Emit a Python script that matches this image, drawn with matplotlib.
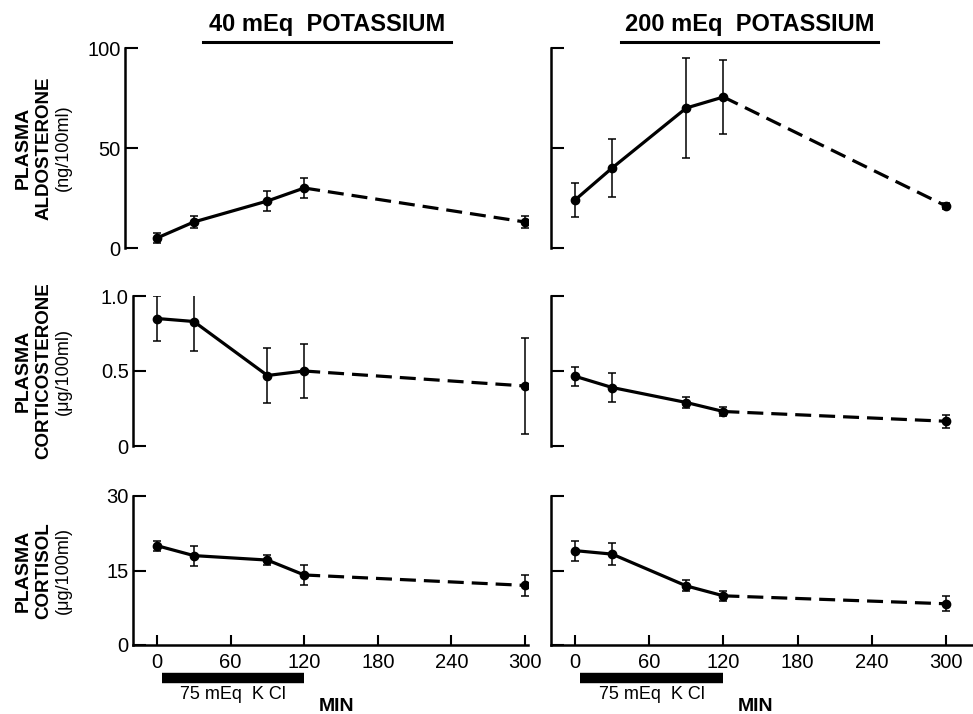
import numpy as np
import matplotlib
matplotlib.use("Agg")
import matplotlib.pyplot as plt
from matplotlib.lines import Line2D

plt.rcParams['font.family'] = ['Liberation Sans', 'DejaVu Sans']

# sampling times (min)
minutes = [0, 30, 90, 120, 300]
xticks = [0, 60, 120, 180, 240, 300]
kcl_span = [4, 120]

# 40 mEq potassium diet
aldo_40 = [5, 13, 23.5, 30, 13]
aldo_40_err = [2.5, 3, 5, 5, 2.8]
cort_40 = [0.85, 0.83, 0.47, 0.50, 0.40]
cort_40_err = [0.15, 0.195, 0.185, 0.183, 0.32]
cortisol_40 = [20, 18, 17.1, 14.1, 12]
cortisol_40_err = [1, 2, 1, 2, 2.1]

# 200 mEq potassium diet
aldo_200 = [24, 40, 70, 75.5, 21]
aldo_200_err = [8.7, 14.5, 25, 18.5, 1.5]
cort_200 = [0.465, 0.39, 0.29, 0.23, 0.165]
cort_200_err = [0.065, 0.095, 0.037, 0.028, 0.042]
cortisol_200 = [19, 18.3, 11.9, 9.9, 8.3]
cortisol_200_err = [2, 2.2, 1.1, 1, 1.5]

W, H = 973, 714

def rect(x0, y0, x1, y1):
    return [x0 / W, 1 - y1 / H, (x1 - x0) / W, (y1 - y0) / H]

fig = plt.figure(figsize=(W / 100, H / 100), dpi=100)

rows = [
    ("ALDOSTERONE", "(ng/100ml)", (0, 100), [0, 50, 100], ["0", "50", "100"], 48, 248),
    ("CORTICOSTERONE", "(\u03bcg/100ml)", (0, 1.0), [0, 0.5, 1.0], ["0", "0.5", "1.0"], 296, 446),
    ("CORTISOL", "(\u03bcg/100ml)", (0, 30), [0, 15, 30], ["0", "15", "30"], 496, 645),
]
data = [
    [(aldo_40, aldo_40_err), (aldo_200, aldo_200_err)],
    [(cort_40, cort_40_err), (cort_200, cort_200_err)],
    [(cortisol_40, cortisol_40_err), (cortisol_200, cortisol_200_err)],
]

for r, (name, unit, ylim, yt, ytl, ytop, ybot) in enumerate(rows):
    for c in range(2):
        if c == 0:
            x0 = 125 if r == 0 else 133
            ax = fig.add_axes(rect(x0, ytop, 528, ybot))
            ax.set_xlim((x0 - 157) / 1.2267, (528 - 157) / 1.2267)
        else:
            ax = fig.add_axes(rect(551, ytop, 973, ybot))
            ax.set_xlim((551 - 575) / 1.2367, (973 - 575) / 1.2367)
        ax.set_ylim(*ylim)
        ax.patch.set_alpha(0)
        for s in ['top', 'right']:
            ax.spines[s].set_visible(False)
        ax.spines['left'].set_linewidth(1.8)
        ax.spines['bottom'].set_linewidth(1.8)

        y, e = data[r][c]
        ax.errorbar(minutes, y, yerr=e, fmt='none', ecolor='k', elinewidth=1.1,
                    capsize=3, capthick=1.1, zorder=2)
        ax.plot(minutes[:4], y[:4], color='k', lw=2.3, marker='o', ms=6, zorder=3)
        ax.plot(minutes[3:], y[3:], color='k', lw=2.3, dashes=(5, 2.5), zorder=3)
        ax.plot(minutes[4:], y[4:], color='k', marker='o', ms=6, lw=0, zorder=3)

        ax.set_yticks(yt)
        ax.tick_params(axis='y', direction='in', length=9, width=1.5, pad=3, labelsize=14.5)
        if c == 0:
            ax.set_yticklabels(ytl)
        else:
            ax.set_yticklabels([])

        if r < 2:
            ax.spines['bottom'].set_visible(False)
            ax.set_xticks([])
        else:
            ax.set_xticks(xticks)
            ax.tick_params(axis='x', direction='in', length=7, width=1.5, pad=6, labelsize=14.5)
            tr = ax.get_xaxis_transform()
            ax.plot(kcl_span, [-0.22, -0.22], color='k', lw=7.5, solid_capstyle='butt',
                    transform=tr, clip_on=False)
            ax.text(62, -0.335, "75 mEq  K Cl", transform=tr, ha='center', va='center',
                    fontsize=13)
            ax.text(146, -0.41, "MIN", transform=tr, ha='center', va='center',
                    fontsize=14, fontweight='bold')

    # y label block, three lines
    yc = 1 - (ytop + ybot) / 2 / H
    fig.text(23 / W, yc, "PLASMA", rotation=90, ha='center', va='center',
             fontsize=14, fontweight='bold')
    fig.text(44 / W, yc, name, rotation=90, ha='center', va='center',
             fontsize=13.5, fontweight='bold')
    fig.text(63 / W, yc, unit, rotation=90, ha='center', va='center', fontsize=13)

# column titles with underline
for txt, x0, x1 in [("40 mEq  POTASSIUM", 203, 451), ("200 mEq  POTASSIUM", 621, 878)]:
    fig.text((x0 + x1) / 2 / W, 1 - 24 / H, txt, ha='center', va='center',
             fontsize=17, fontweight='bold')
    fig.add_artist(Line2D([x0 / W, x1 / W], [1 - 42 / H, 1 - 42 / H], color='k', lw=2.2,
                          transform=fig.transFigure))

fig.savefig("out.png", dpi=100)
